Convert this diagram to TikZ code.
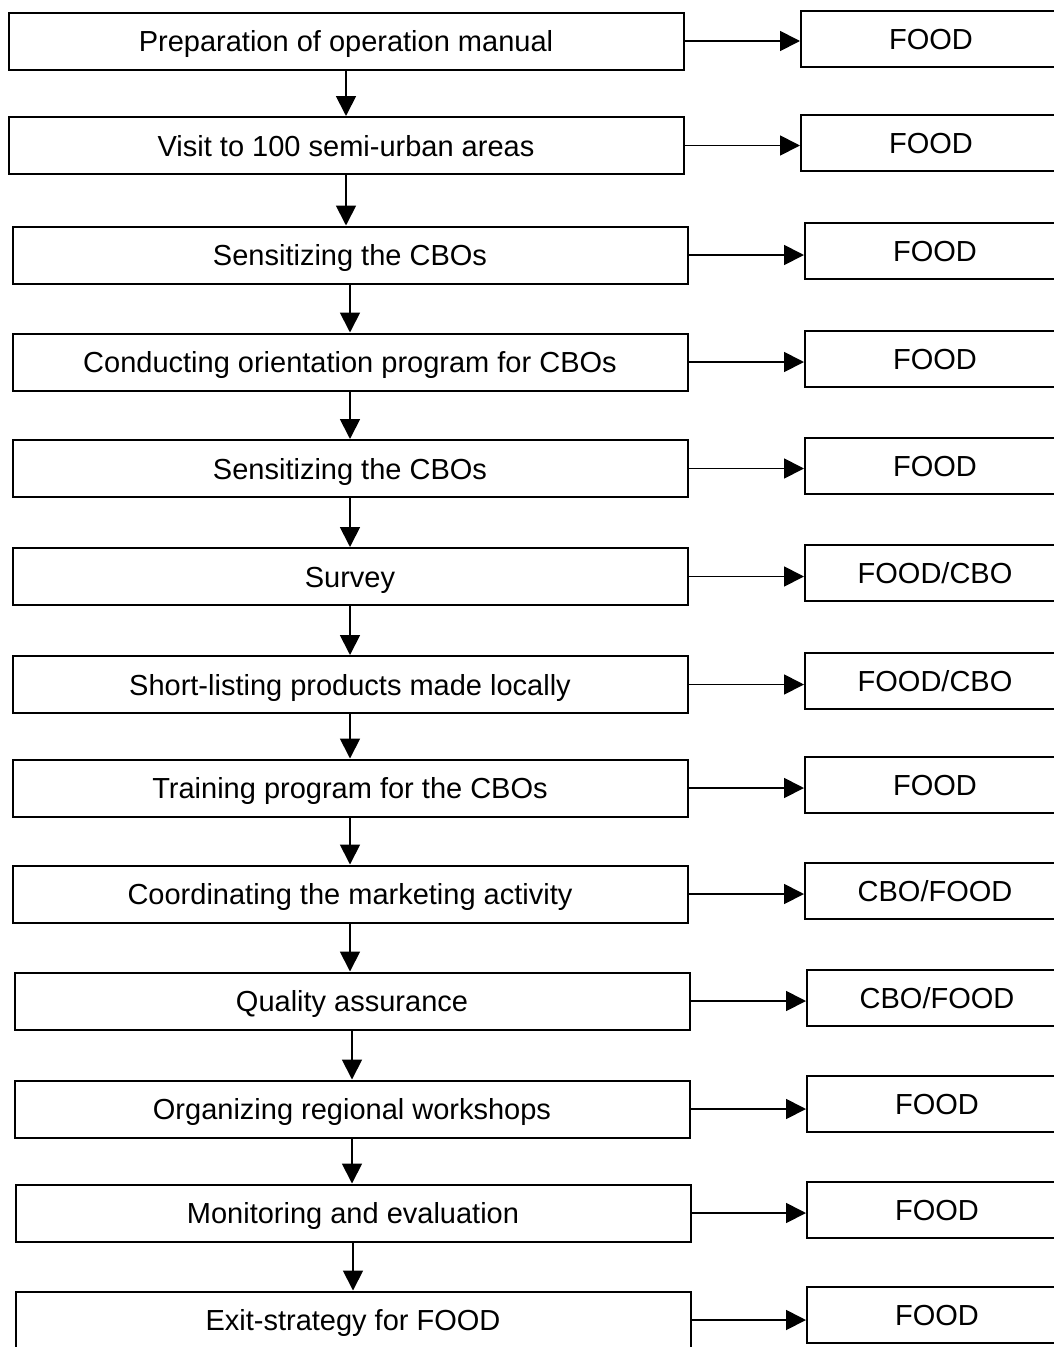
\documentclass[tikz,border=0pt]{standalone}
\usepackage{fontspec}
\setmainfont{Liberation Sans}
\usetikzlibrary{arrows.meta,positioning}

\begin{document}
\begin{tikzpicture}[x=1pt, y=-1pt,
  font=\fontsize{29}{34}\selectfont,
  task/.style={draw, line width=2pt, minimum width=675pt, minimum height=57pt, inner sep=0pt,
    text height=21pt, text depth=0pt},
  actor/.style={draw, line width=2pt, minimum width=260pt, minimum height=56pt, inner sep=0pt,
    text height=21pt, text depth=0pt},
  arr/.style={-{Triangle[length=20pt, width=20pt]}, line width=1.8pt}]
  \useasboundingbox (0,0) rectangle (1054,1347);
  % activities
  \node[task] (t1)  at (346,41)    {Preparation of operation manual};
  \node[task] (t2)  at (346,145.5) {Visit to 100 semi-urban areas};
  \node[task] (t3)  at (350,255)   {Sensitizing the CBOs};
  \node[task] (t4)  at (350,362)   {Conducting orientation program for CBOs};
  \node[task] (t5)  at (350,468.5) {Sensitizing the CBOs};
  \node[task] (t6)  at (350,576.5) {Survey};
  \node[task] (t7)  at (350,684.5) {Short-listing products made locally};
  \node[task] (t8)  at (350,788)   {Training program for the CBOs};
  \node[task] (t9)  at (350,894)   {Coordinating the marketing activity};
  \node[task] (t10) at (352,1001)  {Quality assurance};
  \node[task] (t11) at (352,1109)  {Organizing regional workshops};
  \node[task] (t12) at (353,1213)  {Monitoring and evaluation};
  \node[task] (t13) at (353,1320)  {Exit-strategy for FOOD};
  % who does it
  \node[actor] (a1)  at (931,38.5)  {FOOD};
  \node[actor] (a2)  at (931,143)   {FOOD};
  \node[actor] (a3)  at (935,251)   {FOOD};
  \node[actor] (a4)  at (935,358.5) {FOOD};
  \node[actor] (a5)  at (935,465.5) {FOOD};
  \node[actor] (a6)  at (935,572.5) {FOOD/CBO};
  \node[actor] (a7)  at (935,681)   {FOOD/CBO};
  \node[actor] (a8)  at (935,785)   {FOOD};
  \node[actor] (a9)  at (935,891)   {CBO/FOOD};
  \node[actor] (a10) at (937,998)   {CBO/FOOD};
  \node[actor] (a11) at (937,1104)  {FOOD};
  \node[actor] (a12) at (937,1209.5) {FOOD};
  \node[actor] (a13) at (937,1315)  {FOOD};
  \foreach \i in {1,...,13}
    \draw[arr] (t\i.east) -- (t\i.east -| a\i.west);
  \foreach \i [evaluate=\i as \j using int(\i+1)] in {1,...,12}
    \draw[arr] (t\i.south) -- (t\i.south |- t\j.north);
\end{tikzpicture}
\end{document}
